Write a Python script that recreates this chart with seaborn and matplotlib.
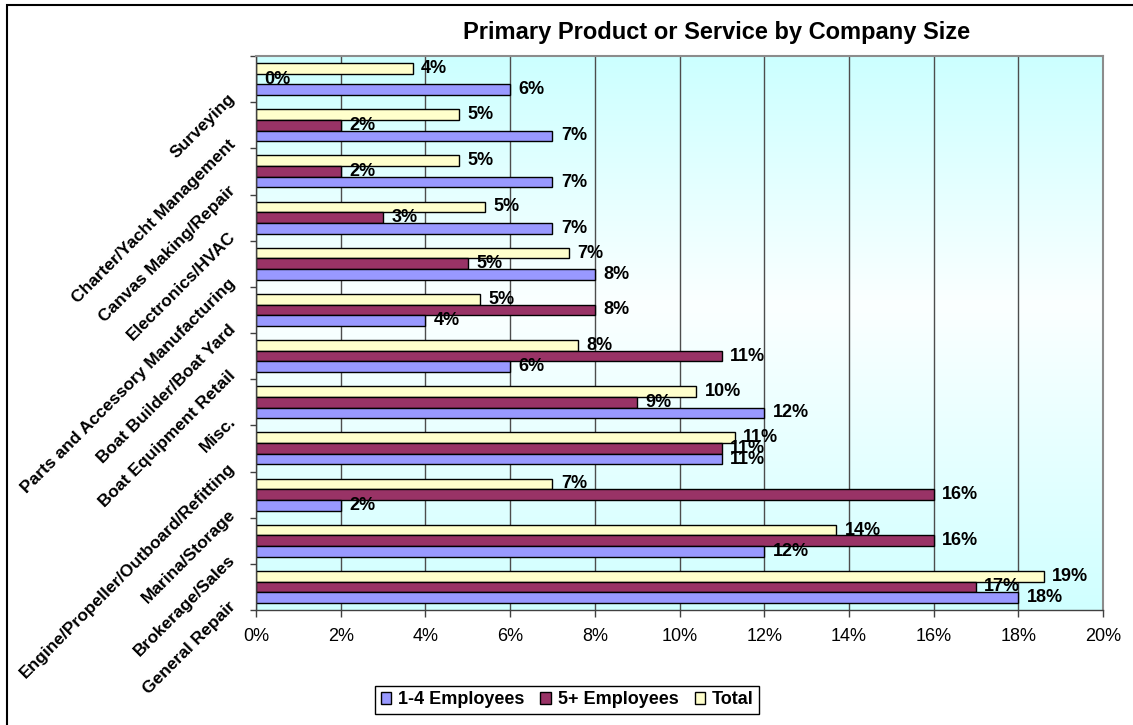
import numpy as np
import pandas as pd
import matplotlib
matplotlib.use("Agg")
import matplotlib.pyplot as plt
from matplotlib.patches import Patch, Rectangle
from matplotlib.transforms import ScaledTranslation
from matplotlib.colors import LinearSegmentedColormap
import seaborn as sns

# Share of companies by primary product/service (percent), top to bottom
categories = [
    "Surveying",
    "Charter/Yacht Management",
    "Canvas Making/Repair",
    "Electronics/HVAC",
    "Parts and Accessory Manufacturing",
    "Boat Builder/Boat Yard",
    "Boat Equipment Retail",
    "Misc.",
    "Engine/Propeller/Outboard/Refitting",
    "Marina/Storage",
    "Brokerage/Sales",
    "General Repair",
]
employees_1_4 = [6.0, 7.0, 7.0, 7.0, 8.0, 4.0, 6.0, 12.0, 11.0, 2.0, 12.0, 18.0]
employees_5_plus = [0.0, 2.0, 2.0, 3.0, 5.0, 8.0, 11.0, 9.0, 11.0, 16.0, 16.0, 17.0]
total = [3.7, 4.8, 4.8, 5.4, 7.4, 5.3, 7.6, 10.4, 11.3, 7.0, 13.7, 18.6]

series_names = ["1-4 Employees", "5+ Employees", "Total"]
x_ticks = [0, 2, 4, 6, 8, 10, 12, 14, 16, 18, 20]
title = "Primary Product or Service by Company Size"

colors = {"1-4 Employees": "#9999FF", "5+ Employees": "#993366", "Total": "#FFFFCC"}

df = pd.DataFrame({
    "category": categories * 3,
    "series": [s for s in series_names for _ in categories],
    "value": employees_1_4 + employees_5_plus + total,
})

sns.set_style("white")
plt.rcParams["font.family"] = ["Liberation Sans", "DejaVu Sans"]
plt.rcParams.update({
    "text.color": "black",
    "axes.labelcolor": "black",
    "xtick.color": "black",
    "ytick.color": "black",
})

W, H = 1133, 725
fig = plt.figure(figsize=(W / 100, H / 100), dpi=100)
ax = fig.add_axes([256 / W, 1 - 610 / H, (1103 - 256) / W, (610 - 56) / H])
ax.set_facecolor("none")

# soft cyan-white-cyan backdrop for the plotting area
bg_cmap = LinearSegmentedColormap.from_list(
    "bg", [(0.0, "#CCFFFF"), (0.45, "#FBFFFF"), (1.0, "#D0FFFF")])
grad = np.linspace(0, 1, 256).reshape(-1, 1)
ax.imshow(grad, cmap=bg_cmap, aspect="auto", extent=(0, 1, 0, 1),
          transform=ax.transAxes, zorder=0, origin="upper")

sns.barplot(
    data=df, y="category", x="value", hue="series",
    order=categories, hue_order=["Total", "5+ Employees", "1-4 Employees"],
    palette=colors, orient="h", width=0.69, saturation=1,
    edgecolor="black", linewidth=1, errorbar=None, legend=False, ax=ax,
)

for container in ax.containers:
    ax.bar_label(container, fmt="{:.0f}%", padding=6, fontsize=13,
                 fontweight="bold", color="black", zorder=5)

ax.set_xlim(0, 20)
ax.set_ylim(len(categories) - 0.5, -0.5)
ax.set_xticks(x_ticks)
ax.xaxis.set_major_formatter(lambda v, pos: f"{v:.0f}%")
ax.set_xlabel("")
ax.set_ylabel("")

ax.set_axisbelow(True)
ax.grid(axis="x", color="#4d4d4d", linewidth=1)
ax.grid(axis="y", visible=False)

# group boundaries carry the tick marks, group centres carry the names
ax.set_yticks(np.arange(-0.5, len(categories), 1.0))
ax.set_yticklabels([])
ax.set_yticks(np.arange(len(categories)), labels=categories, minor=True)
ax.tick_params(axis="y", which="major", left=True, length=4, width=1,
               color="#404040", direction="out")
ax.tick_params(axis="y", which="minor", left=True, length=0, pad=0,
               labelsize=12.5, labelcolor="black")
ax.tick_params(axis="x", which="major", bottom=True, length=5, width=1,
               color="#404040", direction="out", labelsize=13, pad=8,
               labelcolor="black")

for spine in ["left", "bottom"]:
    ax.spines[spine].set_color("#404040")
    ax.spines[spine].set_linewidth(1)
for spine in ["top", "right"]:
    ax.spines[spine].set_color("#8c8c8c")
    ax.spines[spine].set_linewidth(1.5)

shift = ScaledTranslation(-0.23, -0.17, fig.dpi_scale_trans)
for lbl in ax.get_yticklabels(minor=True):
    lbl.set_rotation(45)
    lbl.set_rotation_mode("anchor")
    lbl.set_ha("right")
    lbl.set_va("center")
    lbl.set_fontweight("bold")
    lbl.set_transform(lbl.get_transform() + shift)

fig.text(717 / W, 1 - 32 / H, title, ha="center", va="center",
         fontsize=17, fontweight="bold", color="black")

handles = [Patch(facecolor=colors[s], edgecolor="black", linewidth=1)
           for s in series_names]
leg = fig.legend(
    handles, series_names, loc="center",
    bbox_to_anchor=(567 / W, 1 - 700 / H), ncol=3, frameon=True,
    fancybox=False, edgecolor="black", framealpha=1,
    handlelength=0.6, handleheight=0.6, handletextpad=0.35,
    columnspacing=0.9, borderpad=0.3, borderaxespad=0,
    prop={"size": 13, "weight": "bold"},
)
leg.get_frame().set_linewidth(1)

# outer chart border
fig.add_artist(Rectangle((7 / W, -0.1), 1.2, 1.1 - 5 / H, fill=False,
                         edgecolor="black", linewidth=1.5,
                         transform=fig.transFigure))

fig.savefig("out.png", dpi=100)
